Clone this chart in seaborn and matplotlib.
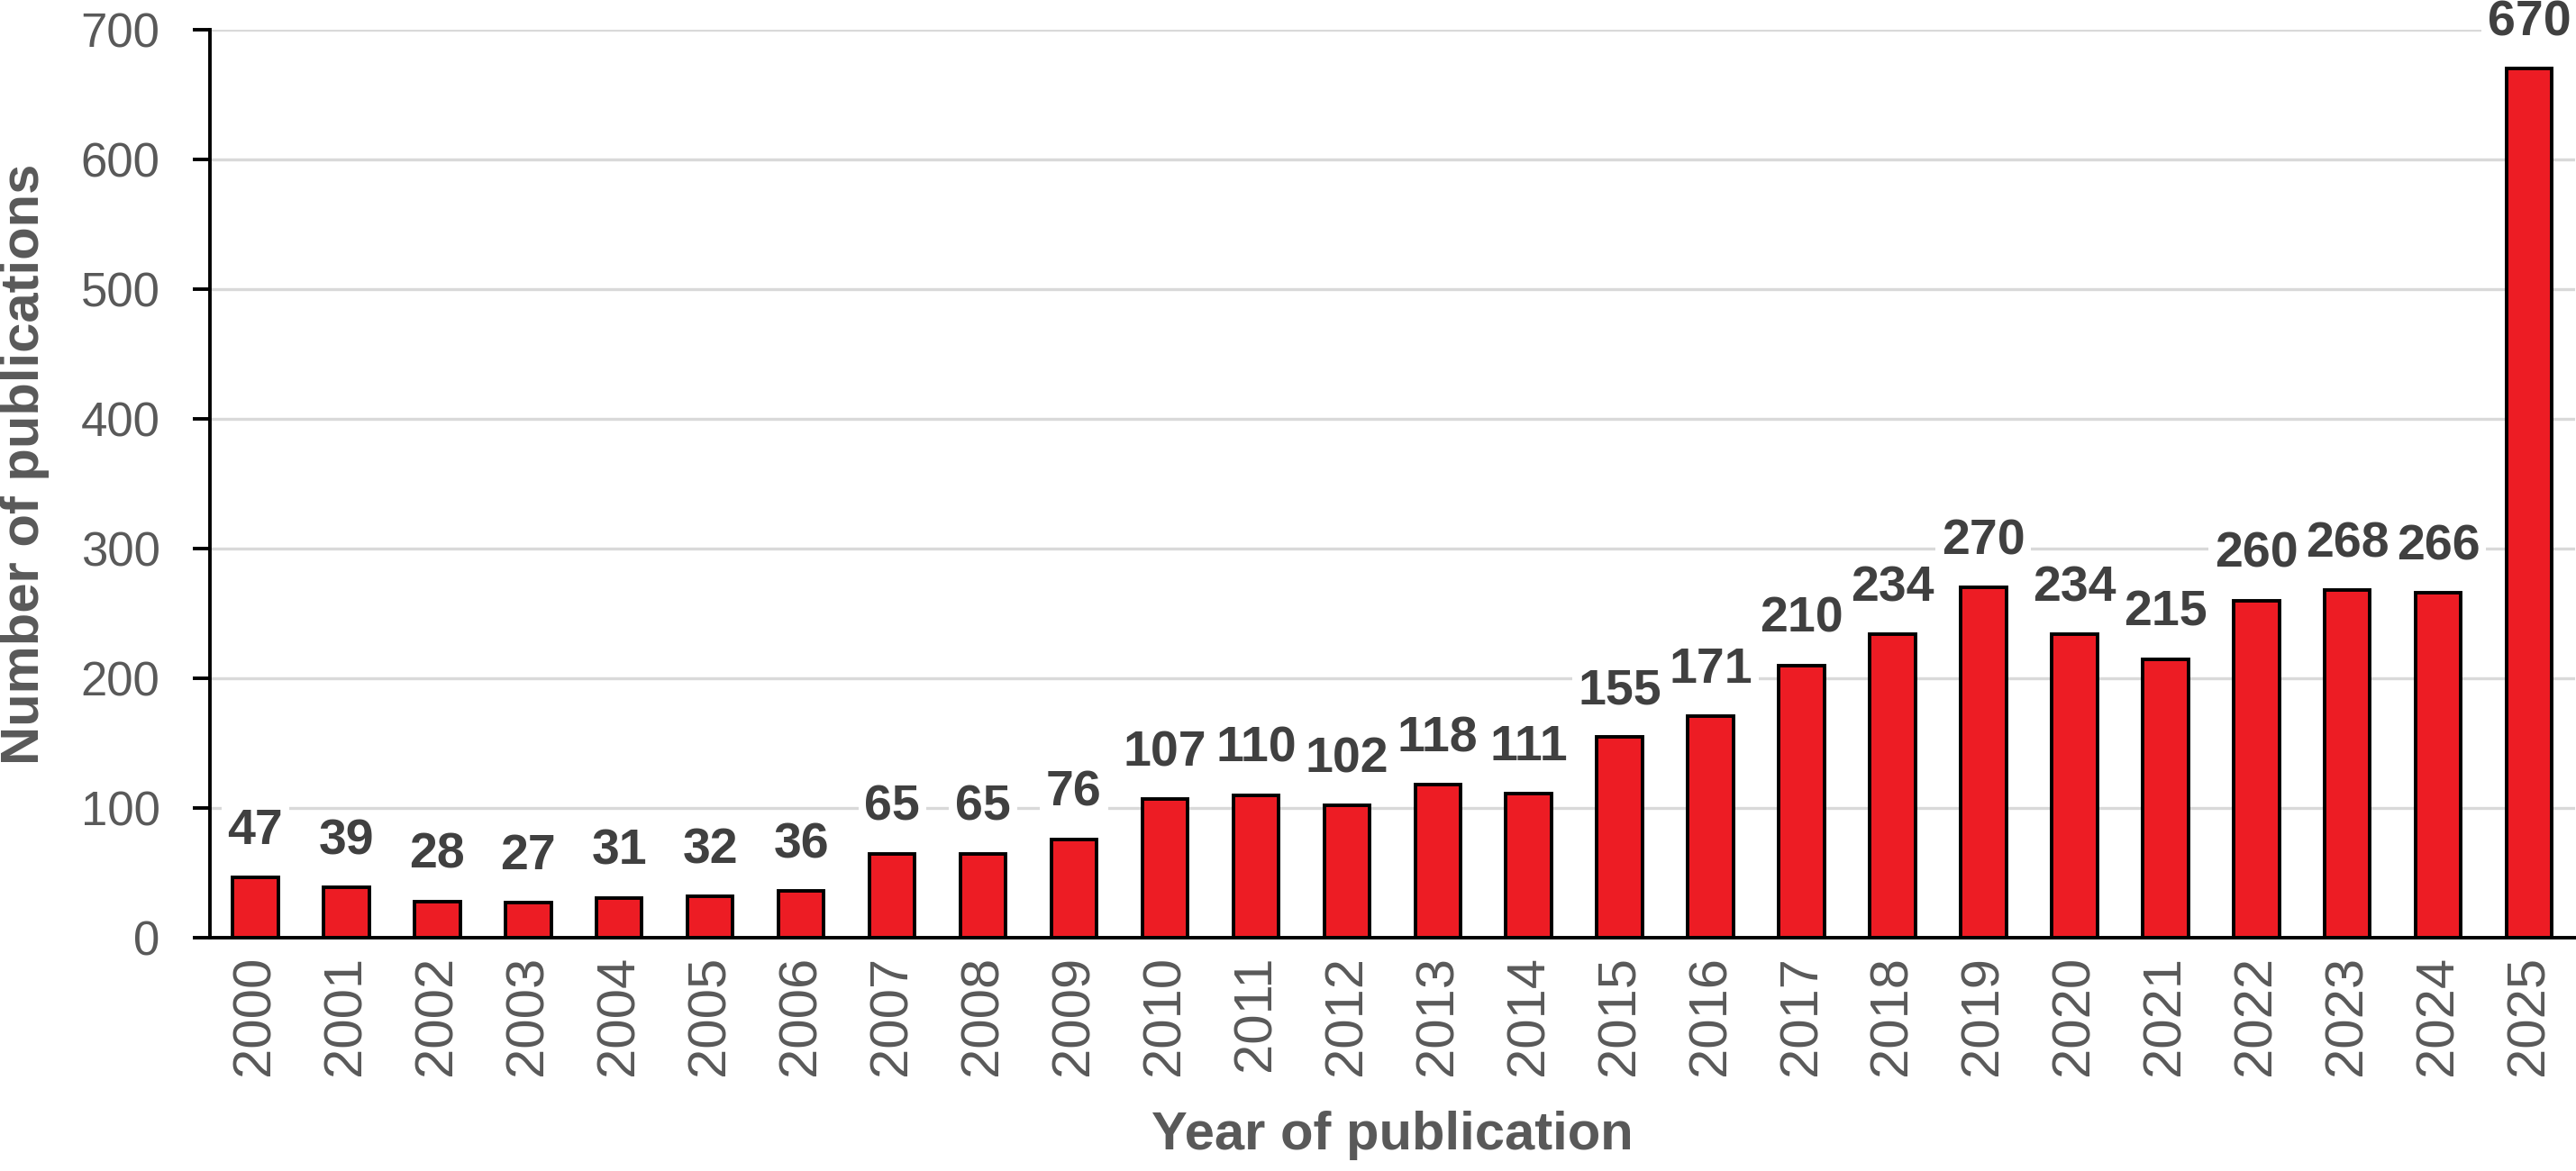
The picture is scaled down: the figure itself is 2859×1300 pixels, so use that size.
import matplotlib
matplotlib.use("Agg")
import matplotlib.pyplot as plt
import seaborn as sns
import pandas as pd

years = [str(y) for y in range(2000, 2026)]
counts = [47, 39, 28, 27, 31, 32, 36, 65, 65, 76, 107, 110, 102, 118, 111,
          155, 171, 210, 234, 270, 234, 215, 260, 268, 266, 670]
y_ticks = [0, 100, 200, 300, 400, 500, 600, 700]
x_title = "Year of publication"
y_title = "Number of publications"

sns.set_theme(style="white")
plt.rcParams['font.family'] = ['Liberation Sans', 'DejaVu Sans']

df = pd.DataFrame({"year": years, "count": counts})

fig = plt.figure(figsize=(28.59, 13), dpi=100)
ax = fig.add_axes([0.0815, 0.199, 0.918, 0.7756])

sns.barplot(data=df, x="year", y="count", color="#ED1C24", saturation=1,
            width=0.5, edgecolor="black", linewidth=2.8, ax=ax, zorder=3)

ax.set_ylim(0, 700)
ax.set_xlim(-0.5, len(years) - 0.5)
ax.set_yticks(y_ticks)
ax.yaxis.grid(True, color="#d9d9d9", linewidth=2.4, zorder=0)
ax.set_axisbelow(True)

for s in ["top", "right"]:
    ax.spines[s].set_visible(False)
for s in ["left", "bottom"]:
    ax.spines[s].set_color("black")
    ax.spines[s].set_linewidth(2.8)
    ax.spines[s].set_zorder(4)

ax.tick_params(axis="y", which="major", direction="out", length=14, width=2.8,
               color="black", labelsize=38, labelcolor="#595959", pad=26, left=True)
ax.tick_params(axis="x", which="major", length=0, labelsize=43,
               labelcolor="#595959", pad=14, rotation=90, bottom=False)

for i, v in enumerate(counts):
    ax.annotate(str(v), (i, v), xytext=(0, 18), textcoords="offset points",
                ha="center", va="bottom", fontsize=40, fontweight="bold",
                color="#404040", zorder=5, annotation_clip=False,
                bbox=dict(boxstyle="square,pad=0.12", fc="white", ec="none"))

ax.set_xlabel(x_title, fontsize=43, fontweight="bold", color="#595959")
ax.xaxis.set_label_coords(0.5, -0.19)
ax.set_ylabel(y_title, fontsize=43, fontweight="bold", color="#595959")
ax.yaxis.set_label_coords(-0.068, 0.522)

fig.savefig("out.png", dpi=100)
